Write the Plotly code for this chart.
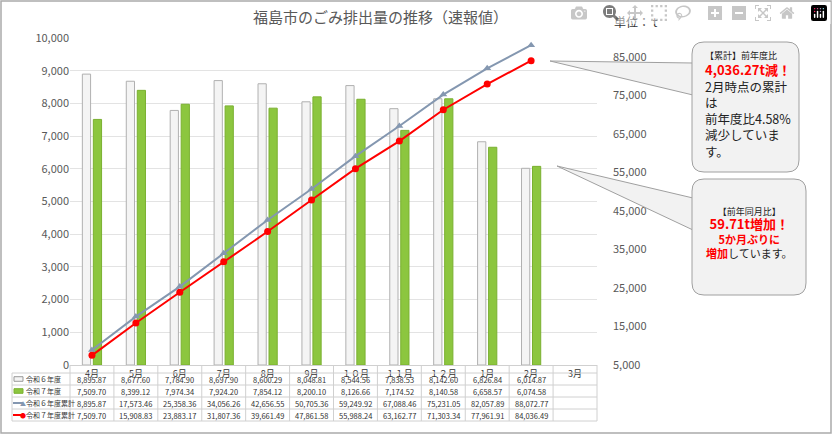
import plotly.graph_objects as go

months = ["4月","5月","6月","7月","8月","9月","１０月","１１月","１２月","1月","2月","3月"]
r6 = [8895.87,8677.60,7784.90,8697.90,8600.29,8048.81,8544.56,7838.53,8142.60,6826.84,6014.87]
r7 = [7509.70,8399.12,7974.34,7924.20,7854.12,8200.10,8126.66,7174.52,8140.58,6658.57,6074.58]
r6c = [8895.87,17573.46,25358.36,34056.26,42656.55,50705.36,59249.92,67088.46,75231.05,82057.89,88072.77]
r7c = [7509.70,15908.83,23883.17,31807.36,39661.49,47861.58,55988.24,63162.77,71303.34,77961.91,84036.49]
row_names = ["令和６年度","令和７年度","令和６年度累計","令和７年度累計"]

W, H = 833, 435
L, R, T, B = 70, 597, 38, 365
def px(x): return (x - L) / (R - L)
def py(y): return (B - y) / (B - T)

fig = go.Figure()
fig.add_bar(x=months[:11], y=r6, name=row_names[0], marker=dict(color="#f4f4f4", line=dict(color="#b0b0b0", width=1)))
fig.add_bar(x=months[:11], y=r7, name=row_names[1], marker=dict(color="#8cc63f", line=dict(color="#7ab030", width=1)))
fig.add_scatter(x=months[:11], y=r6c, yaxis="y2", mode="lines+markers", name=row_names[2],
                line=dict(color="#8497b0", width=2), marker=dict(symbol="triangle-up", size=7, color="#8497b0"))
fig.add_scatter(x=months[:11], y=r7c, yaxis="y2", mode="lines+markers", name=row_names[3],
                line=dict(color="#ff0000", width=2), marker=dict(symbol="circle", size=7, color="#ff0000"))

shapes, ann = [], []
shapes.append(dict(type="rect", xref="paper", yref="paper", x0=px(1), x1=px(W-2), y0=py(H-2), y1=py(1),
                   line=dict(color="#aaaaaa", width=1.5)))
rows_y = [373, 385, 397, 409, 421]
for y in rows_y:
    shapes.append(dict(type="line", xref="paper", yref="paper", x0=px(12), x1=px(R), y0=py(y), y1=py(y),
                       line=dict(color="#d0d0d0", width=1)))
for x in [12, L] + [L + (R - L) * i / 12 for i in range(1, 13)]:
    shapes.append(dict(type="line", xref="paper", yref="paper", x0=px(x), x1=px(x), y0=py(365 if x >= L else 373), y1=py(421),
                       line=dict(color="#d0d0d0", width=1)))
data_rows = [r6, r7, r6c, r7c]
for ri, row in enumerate(data_rows):
    yc = (rows_y[ri] + rows_y[ri + 1]) / 2
    yy = py(yc)
    ann.append(dict(xref="paper", yref="paper", x=px(24), y=yy, yanchor="middle", text=row_names[ri], showarrow=False,
                    font=dict(size=7, color="#333"), xanchor="left"))
    for ci, v in enumerate(row):
        ann.append(dict(xref="x", yref="paper", x=ci, y=yy, yanchor="middle", text=f"{v:,.2f}", showarrow=False,
                        font=dict(size=7.5, color="#333")))
    if ri < 2:
        fc, lc = ("#f4f4f4", "#999") if ri == 0 else ("#8cc63f", "#7ab030")
        shapes.append(dict(type="rect", xref="paper", yref="paper", x0=px(14), x1=px(23), y0=yy-0.007, y1=yy+0.007,
                           fillcolor=fc, line=dict(color=lc, width=1)))
    else:
        c = "#8497b0" if ri == 2 else "#ff0000"
        shapes.append(dict(type="line", xref="paper", yref="paper", x0=px(13), x1=px(23), y0=yy, y1=yy, line=dict(color=c, width=2)))
        ann.append(dict(xref="paper", yref="paper", x=px(18), y=yy, yanchor="middle", text="▲" if ri == 2 else "●", showarrow=False,
                        font=dict(size=6, color=c)))

def rrect(x0, y0, x1, y1, r=12):
    X = lambda v: px(v); Y = lambda v: py(v)
    return (f"M {X(x0+r)} {Y(y0)} L {X(x1-r)} {Y(y0)} Q {X(x1)} {Y(y0)} {X(x1)} {Y(y0+r)} "
            f"L {X(x1)} {Y(y1-r)} Q {X(x1)} {Y(y1)} {X(x1-r)} {Y(y1)} L {X(x0+r)} {Y(y1)} "
            f"Q {X(x0)} {Y(y1)} {X(x0)} {Y(y1-r)} L {X(x0)} {Y(y0+r)} Q {X(x0)} {Y(y0)} {X(x0+r)} {Y(y0)} Z")
def tri(pts):
    return "M " + " L ".join(f"{px(a)} {py(b)}" for a, b in pts) + " Z"
for path in [tri([(550, 61), (693, 63), (693, 95)]), rrect(692, 42, 799, 172),
             tri([(557, 166), (693, 198), (693, 230)]), rrect(692, 179, 806, 295)]:
    shapes.append(dict(type="path", xref="paper", yref="paper", path=path, fillcolor="#f2f2f2",
                       line=dict(color="#a0a0a0", width=1)))
ann += [
    dict(xref="paper", yref="paper", x=px(703), y=py(47), yanchor="top", xanchor="left", align="left", showarrow=False,
         text="<span style='font-size:9px'>【累計】前年度比</span><br><b><span style='color:#ff0000;font-size:13px'>4,036.27t減！</span></b><br>2月時点の累計<br>は<br>前年度比4.58%<br>減少していま<br>す。",
         font=dict(size=12.5, color="#222")),
    dict(xref="paper", yref="paper", x=px(749), y=py(203), yanchor="top", xanchor="center", align="center", showarrow=False,
         text="<span style='font-size:9px'>【前年同月比】</span><br><b><span style='color:#ff0000;font-size:13px'>59.71t増加！</span></b><br><b><span style='color:#ff0000'>5か月ぶりに</span></b><br><b><span style='color:#ff0000'>増加</span></b>しています。",
         font=dict(size=11, color="#222")),
    dict(xref="paper", yref="paper", x=px(380), y=py(16), yanchor="middle", text="福島市のごみ排出量の推移（速報値）", showarrow=False,
         font=dict(size=15, color="#595959")),
    dict(xref="paper", yref="paper", x=px(612), y=py(21), yanchor="middle", text="単位： t", showarrow=False, xanchor="left",
         font=dict(size=12, color="#333")),
]

fig.update_layout(
    width=W, height=H, margin=dict(l=L, r=W - R, t=T, b=H - B, autoexpand=False),
    paper_bgcolor="white", plot_bgcolor="white", showlegend=False,
    font=dict(family="Noto Sans CJK JP, Noto Sans, sans-serif"),
    barmode="group", bargap=0.5, bargroupgap=0.25,
    xaxis=dict(categoryorder="array", categoryarray=months, range=[-0.5, 11.5], tickfont=dict(size=9, color="#333"),
               showline=True, linecolor="#d0d0d0", ticks="", automargin=False),
    yaxis=dict(range=[0, 10000], dtick=1000, tickformat=",", gridcolor="#e3e3e3", tickfont=dict(size=11, color="#595959"),
               zeroline=False, automargin=False),
    yaxis2=dict(overlaying="y", side="right", range=[5000, 89935], tickvals=[5000,15000,25000,35000,45000,55000,65000,75000,85000],
                tickformat=",", showgrid=False, tickfont=dict(size=11, color="#595959"), ticklabelstandoff=15, automargin=False),
    shapes=shapes, annotations=ann,
)
fig.write_html("out.html", post_script="document.body.style.margin='0';document.body.style.padding='0';")
